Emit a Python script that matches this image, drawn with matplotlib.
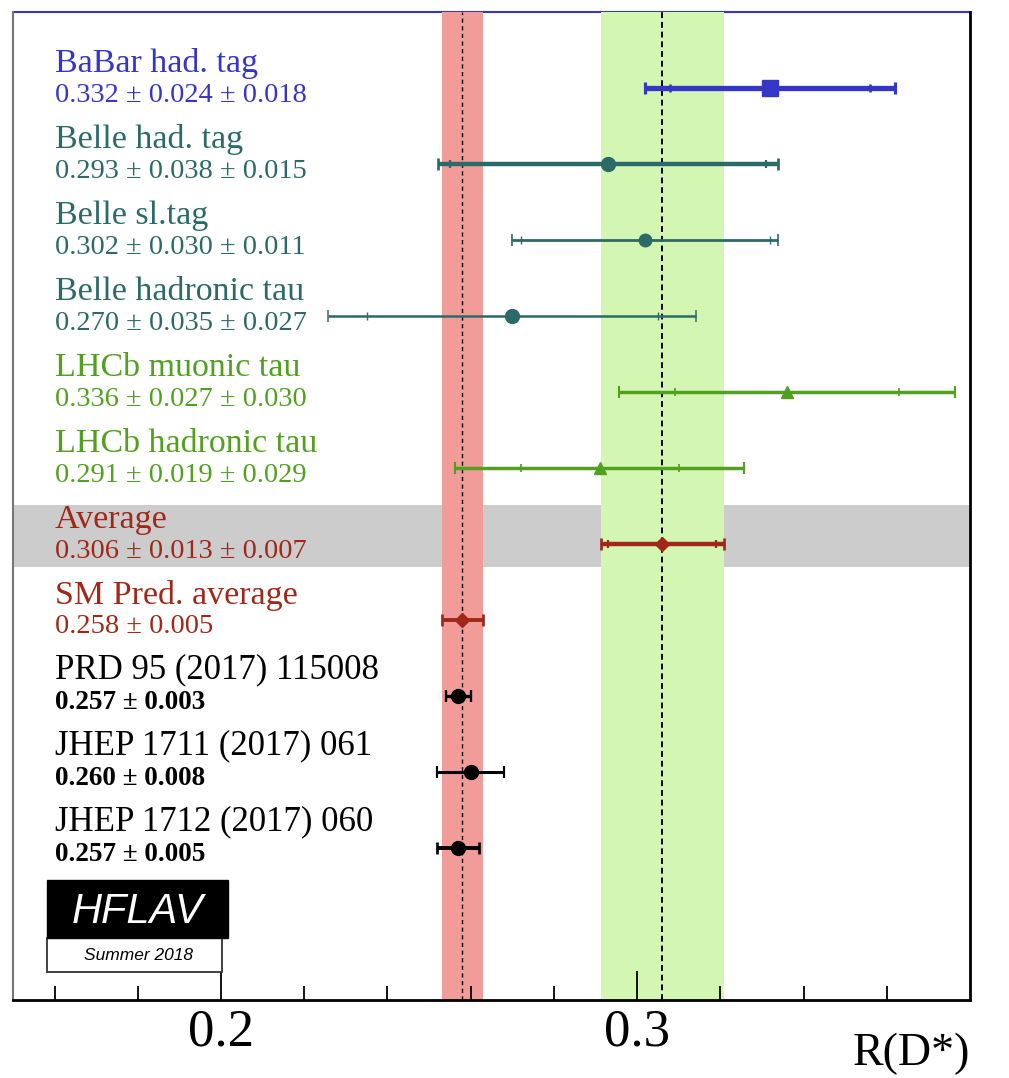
import numpy as np
import matplotlib
matplotlib.use("Agg")
import matplotlib.pyplot as plt
from matplotlib.patches import Rectangle

# ---- data ----
exp_names = ["BaBar had. tag", "Belle had. tag", "Belle sl.tag", "Belle hadronic tau",
             "LHCb muonic tau", "LHCb hadronic tau", "Average"]
exp_vals = [0.332, 0.293, 0.302, 0.270, 0.336, 0.291, 0.306]
exp_stat = [0.024, 0.038, 0.030, 0.035, 0.027, 0.019, 0.013]
exp_syst = [0.018, 0.015, 0.011, 0.027, 0.030, 0.029, 0.007]

sm_names = ["SM Pred. average", "PRD 95 (2017) 115008", "JHEP 1711 (2017) 061", "JHEP 1712 (2017) 060"]
sm_vals = [0.258, 0.257, 0.260, 0.257]
sm_errs = [0.005, 0.003, 0.008, 0.005]

xtick_labels = ["0.2", "0.3"]
xtick_vals = [0.2, 0.3]

# ---- styles ----
BLUE = "#3535c8"
TEAL = "#2b6a68"
GREEN = "#52a020"
DRED = "#a02818"
exp_colors = [BLUE, TEAL, TEAL, TEAL, GREEN, GREEN, DRED]
exp_markers = ["s", "o", "o", "o", "^", "^", "D"]
exp_ms = [11, 10, 9, 10, 9, 9, 7]
exp_lw = [3.8, 3.2, 2.0, 1.8, 2.5, 2.5, 3.2]
sm_colors = [DRED, "black", "black", "black"]
sm_markers = ["D", "o", "o", "o"]
sm_ms = [7, 10, 10, 10]
sm_lw = [2.8, 2.4, 2.2, 2.8]

W, H = 1009, 1078
fig = plt.figure(figsize=(W / 100, H / 100), dpi=100)
L, R, T, B = 13, 970, 12, 1000
ax = fig.add_axes([L / W, 1 - B / H, (R - L) / W, (B - T) / H])
ax.set_xlim(0.15, 0.38)
ax.set_ylim(12, -1)

serif = ["Liberation Serif", "DejaVu Serif"]

# bands
avg = exp_vals[-1]
avg_tot = np.hypot(exp_stat[-1], exp_syst[-1])
ax.axhspan(6 - 0.51, 6 + 0.30, color="#cccccc", zorder=0.5, lw=0)
ax.axvspan(sm_vals[0] - sm_errs[0], sm_vals[0] + sm_errs[0], color="#f29c9a", zorder=0.8, lw=0)
ax.axvspan(avg - avg_tot, avg + avg_tot, color="#d3f7b3", zorder=0.8, lw=0)
ax.axvline(sm_vals[0], color="black", ls=(0, (3, 2.5)), lw=1.0, zorder=1)
ax.axvline(avg, color="black", ls=(0, (3, 2)), lw=1.4, zorder=1)

name_fs = 24.5
val_fs = 20.5
n_exp = len(exp_names)
for i in range(n_exp):
    v, s, sy = exp_vals[i], exp_stat[i], exp_syst[i]
    tot = np.hypot(s, sy)
    c = exp_colors[i]
    ax.errorbar([v], [i], xerr=[[tot], [tot]], fmt="none", ecolor=c, elinewidth=exp_lw[i],
                capsize=4, capthick=exp_lw[i] * 0.6, zorder=3)
    ax.errorbar([v], [i], xerr=[[s], [s]], fmt="none", ecolor=c, elinewidth=0,
                capsize=3, capthick=max(1.0, exp_lw[i] * 0.5), zorder=3)
    ax.plot([v], [i], marker=exp_markers[i], ms=exp_ms[i], color=c, zorder=4, ls="none")
    ax.text(0.1601, i - 0.32, exp_names[i], color=c, fontsize=name_fs, family=serif,
            va="center", ha="left")
    ax.text(0.1601, i + 0.10, f"{v:.3f} \u00b1 {s:.3f} \u00b1 {sy:.3f}", color=c, fontsize=val_fs,
            family=serif, va="center", ha="left")

for j in range(len(sm_names)):
    y = n_exp + j
    v, e = sm_vals[j], sm_errs[j]
    c = sm_colors[j]
    ax.errorbar([v], [y], xerr=[[e], [e]], fmt="none", ecolor=c, elinewidth=sm_lw[j],
                capsize=4, capthick=sm_lw[j] * 0.7, zorder=3)
    ax.plot([v], [y], marker=sm_markers[j], ms=sm_ms[j], color=c, zorder=4, ls="none")
    if j == 0:
        ax.text(0.1601, y - 0.32, sm_names[j], color=c, fontsize=name_fs, family=serif,
                va="center", ha="left")
        ax.text(0.1601, y + 0.09, f"{v:.3f} \u00b1 {e:.3f}", color=c, fontsize=val_fs,
                family=serif, va="center", ha="left")
    else:
        ax.text(0.1601, y - 0.34, sm_names[j], color=c, fontsize=25, family=serif,
                va="center", ha="left")
        ax.text(0.1601, y + 0.08, f"{v:.3f} \u00b1 {e:.3f}", color=c, fontsize=19.5,
                family=serif, va="center", ha="left", fontweight="bold")

# axes styling
ax.set_yticks([])
ax.set_xticks(xtick_vals)
ax.set_xticklabels(xtick_labels, family=serif, fontsize=38)
ax.set_xticks(np.arange(0.16, 0.37, 0.02), minor=True)
ax.tick_params(axis="x", which="major", direction="in", length=21, width=1.3, pad=6)
ax.tick_params(axis="x", which="minor", direction="in", length=10, width=1.3)
ax.spines["top"].set_color(BLUE)
ax.spines["top"].set_zorder(0.6)
ax.spines["top"].set_linewidth(1.5)
ax.spines["left"].set_color("#777777")
ax.spines["left"].set_linewidth(1.5)
ax.spines["right"].set_linewidth(2.0)
ax.spines["bottom"].set_linewidth(2.0)

fig.text(970 / W, 1 - 1054 / H, "R(D*)", family=serif, fontsize=33, ha="right", va="center")

# HFLAV logo
def fr(x0, y0, x1, y1):
    return (x0 / W, 1 - y1 / H), (x1 - x0) / W, (y1 - y0) / H

xy, w, h = fr(47, 938, 222, 972)
fig.add_artist(Rectangle(xy, w, h, transform=fig.transFigure, facecolor="white",
                         edgecolor="#333333", lw=1.3, zorder=5))
xy, w, h = fr(47, 880, 228, 938)
fig.add_artist(Rectangle(xy, w, h, transform=fig.transFigure, facecolor="black",
                         edgecolor="black", lw=1, zorder=6))
fig.text(138 / W, 1 - 912 / H, "HFLAV", color="white", fontsize=30, style="italic",
         family=["Liberation Sans", "DejaVu Sans"], ha="center", va="center", zorder=7)
fig.text(138 / W, 1 - 955 / H, "Summer 2018", color="black", fontsize=12.5, style="italic",
         family=["Liberation Sans", "DejaVu Sans"], ha="center", va="center", zorder=7)

fig.savefig("out.png", dpi=100)
